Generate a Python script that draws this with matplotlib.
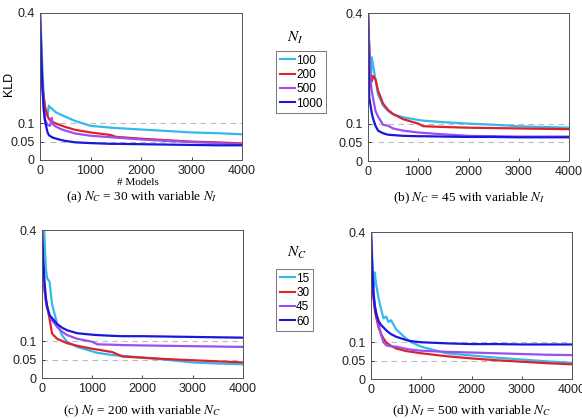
import matplotlib
matplotlib.use("Agg")
import matplotlib.pyplot as plt
from matplotlib.lines import Line2D

plt.rcParams['font.family'] = ['Liberation Sans', 'DejaVu Sans']
plt.rcParams['mathtext.fontset'] = 'stix'

# ---------------- data ----------------
xa = [0, 25, 50, 75, 100, 150, 175, 200, 230, 250, 300, 400, 500, 700, 1000, 1400, 1500, 2000, 2500, 3000, 3500, 4000]
a_100 = [0.40, 0.33, 0.24, 0.17, 0.135, 0.12, 0.148, 0.143, 0.141, 0.138, 0.131, 0.124, 0.118, 0.106, 0.093, 0.088, 0.087, 0.083, 0.079, 0.075, 0.073, 0.070]
a_200 = [0.28, 0.25, 0.20, 0.17, 0.145, 0.12, 0.112, 0.108, 0.106, 0.104, 0.100, 0.095, 0.090, 0.082, 0.075, 0.068, 0.063, 0.058, 0.054, 0.050, 0.048, 0.045]
a_500 = [0.40, 0.30, 0.20, 0.14, 0.110, 0.095, 0.094, 0.093, 0.115, 0.098, 0.092, 0.085, 0.080, 0.072, 0.066, 0.062, 0.061, 0.056, 0.052, 0.049, 0.046, 0.043]
a_1000 = [0.40, 0.28, 0.19, 0.135, 0.105, 0.075, 0.068, 0.065, 0.063, 0.061, 0.059, 0.055, 0.052, 0.048, 0.046, 0.044, 0.044, 0.043, 0.042, 0.041, 0.040, 0.040]

xb = [0, 25, 50, 75, 100, 150, 200, 300, 400, 500, 700, 1000, 1100, 1500, 2000, 2500, 3000, 3500, 4000]
b_100 = [0.40, 0.30, 0.20, 0.28, 0.26, 0.22, 0.18, 0.150, 0.135, 0.126, 0.118, 0.111, 0.109, 0.105, 0.101, 0.098, 0.094, 0.092, 0.090]
b_200 = [0.40, 0.30, 0.22, 0.215, 0.23, 0.22, 0.19, 0.155, 0.138, 0.127, 0.113, 0.101, 0.094, 0.092, 0.090, 0.089, 0.088, 0.087, 0.086]
b_500 = [0.40, 0.30, 0.22, 0.19, 0.17, 0.135, 0.12, 0.098, 0.095, 0.088, 0.082, 0.077, 0.076, 0.072, 0.068, 0.067, 0.066, 0.066, 0.066]
b_1000 = [0.40, 0.17, 0.15, 0.13, 0.115, 0.095, 0.082, 0.075, 0.071, 0.070, 0.068, 0.067, 0.067, 0.066, 0.065, 0.065, 0.064, 0.064, 0.064]

xc = [0, 25, 50, 75, 100, 150, 200, 300, 400, 500, 700, 1000, 1100, 1400, 1600, 2000, 2500, 3000, 3500, 4000]
c_15 = [0.50, 0.45, 0.38, 0.30, 0.27, 0.26, 0.20, 0.147, 0.115, 0.098, 0.084, 0.072, 0.068, 0.062, 0.060, 0.055, 0.049, 0.042, 0.039, 0.037]
c_30 = [0.30, 0.27, 0.24, 0.21, 0.195, 0.16, 0.12, 0.106, 0.100, 0.094, 0.087, 0.079, 0.077, 0.070, 0.058, 0.055, 0.051, 0.048, 0.045, 0.042]
c_45 = [0.40, 0.30, 0.237, 0.21, 0.19, 0.17, 0.156, 0.138, 0.125, 0.116, 0.106, 0.098, 0.091, 0.090, 0.089, 0.088, 0.087, 0.086, 0.085, 0.084]
c_60 = [0.40, 0.32, 0.26, 0.22, 0.195, 0.17, 0.162, 0.146, 0.136, 0.129, 0.121, 0.117, 0.116, 0.114, 0.113, 0.113, 0.112, 0.111, 0.110, 0.109]

xd = [0, 25, 50, 75, 100, 150, 200, 250, 300, 350, 400, 500, 700, 800, 1000, 1500, 2000, 2500, 3000, 3500, 4000]
d_15 = [0.40, 0.33, 0.25, 0.29, 0.26, 0.22, 0.19, 0.165, 0.170, 0.155, 0.160, 0.135, 0.110, 0.100, 0.088, 0.070, 0.064, 0.058, 0.053, 0.048, 0.044]
d_30 = [0.30, 0.26, 0.22, 0.19, 0.17, 0.14, 0.123, 0.110, 0.100, 0.095, 0.090, 0.083, 0.076, 0.074, 0.070, 0.062, 0.056, 0.051, 0.047, 0.043, 0.040]
d_45 = [0.40, 0.30, 0.24, 0.20, 0.185, 0.15, 0.12, 0.100, 0.092, 0.090, 0.089, 0.088, 0.082, 0.080, 0.077, 0.074, 0.072, 0.070, 0.068, 0.066, 0.065]
d_60 = [0.40, 0.30, 0.23, 0.20, 0.178, 0.158, 0.147, 0.140, 0.133, 0.127, 0.122, 0.115, 0.106, 0.103, 0.100, 0.097, 0.095, 0.095, 0.094, 0.094, 0.094]

ni_labels = ['100', '200', '500', '1000']
nc_labels = ['15', '30', '45', '60']
yticks = [0, 0.05, 0.1, 0.4]
yticklabels = ['0', '0.05', '0.1', '0.4']
xticks = [0, 1000, 2000, 3000, 4000]

colors = ['#35b8ec', '#e0202c', '#9a4ff0', '#1818dc']

W, H = 582, 419
fig = plt.figure(figsize=(W / 100, H / 100), dpi=100)


def add_ax(l, r, t, b):
    return fig.add_axes([l / W, 1 - b / H, (r - l) / W, (b - t) / H])


def style(ax, x, series):
    for ln in [0.05, 0.1]:
        ax.axhline(ln, color='#bbbbbb', lw=0.8, ls=(0, (5, 4)), zorder=1)
    for ys, c in zip(series, colors):
        ax.plot(x, ys, color=c, lw=1.6, zorder=2)
    ax.set_xlim(0, 4000)
    ax.set_ylim(0, 0.4)
    ax.set_yticks(yticks)
    ax.set_yticklabels(yticklabels)
    ax.set_xticks(xticks)
    ax.tick_params(direction='in', length=2, width=0.6, labelsize=9, colors='#222222')
    ax.tick_params(axis='x', pad=3.5)
    ax.tick_params(axis='y', pad=4)
    for s in ax.spines.values():
        s.set_color('#555555')
        s.set_linewidth(0.7)


axa = add_ax(40, 242, 13, 160)
style(axa, xa, [a_100, a_200, a_500, a_1000])
axb = add_ax(368, 569, 13, 161)
style(axb, xb, [b_100, b_200, b_500, b_1000])
axc = add_ax(42, 243, 230, 378)
style(axc, xc, [c_15, c_30, c_45, c_60])
axd = add_ax(371, 572, 232, 379)
style(axd, xd, [d_15, d_30, d_45, d_60])

fig.text(9 / W, 1 - 84 / H, 'KLD', ha='center', va='center', rotation=90, fontsize=9)
fig.text(138 / W, 1 - 182.5 / H, '# Models', ha='center', va='center', family='Liberation Serif', fontsize=8)

cap_kw = dict(ha='center', va='center', family='Liberation Serif', fontsize=9.5)
fig.text(142 / W, 1 - 197 / H, '(a) $N_C$ = 30 with variable $N_I$', **cap_kw)
fig.text(469 / W, 1 - 198 / H, '(b) $N_C$ = 45 with variable $N_I$', **cap_kw)
fig.text(142 / W, 1 - 411 / H, '(c) $N_I$ = 200 with variable $N_C$', **cap_kw)
fig.text(471 / W, 1 - 411 / H, '(d) $N_I$ = 500 with variable $N_C$', **cap_kw)

handles = [Line2D([], [], color=c, lw=1.5) for c in colors]


def add_legend(labels, l, t, title, tx, ty):
    leg = fig.legend(handles, labels, loc='upper left', bbox_to_anchor=(l / W, 1 - t / H),
                     fontsize=8.5, frameon=True, fancybox=False, handlelength=1.3,
                     handletextpad=0.1, borderpad=0.3, labelspacing=0.2, borderaxespad=0)
    leg.get_frame().set_edgecolor('#555555')
    leg.get_frame().set_linewidth(0.7)
    fig.text(tx / W, 1 - ty / H, title, ha='center', va='center', fontsize=11)


add_legend(ni_labels, 276, 51, '$N_I$', 295, 38)
add_legend(nc_labels, 276, 269, '$N_C$', 297, 253)

fig.savefig('out.png', dpi=100)
